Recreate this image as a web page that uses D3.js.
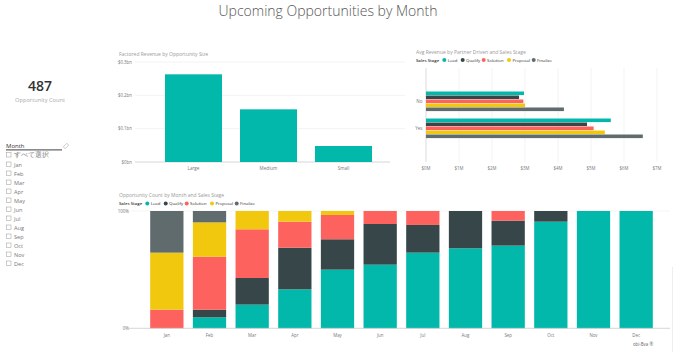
<!DOCTYPE html>
<html><head><meta charset="utf-8">
<script src="https://cdn.jsdelivr.net/npm/d3@7"></script>
<style>
html,body{margin:0;padding:0;background:#fff;}
svg{display:block;font-family:"Open Sans","Noto Sans",sans-serif;}
</style></head>
<body><svg id="c" width="674" height="352"></svg>
<script>
// ---------- data ----------
const months = ["Jan","Feb","Mar","Apr","May","Jun","Jul","Aug","Sep","Oct","Nov","Dec"];
const stages = ["Lead","Qualify","Solution","Proposal","Finalize"];
const stageColors = ["#01B8AA","#374649","#FD625E","#F2C80F","#5F6B6D"];
// share of opportunities (%) per month, one array per stage
const leadPct     = [0, 9.4, 20.2, 33.2, 50.0, 54.3, 64.5, 68.2, 70.5, 90.9, 100, 100];
const qualifyPct  = [0, 6.5, 22.7, 35.5, 25.9, 34.7, 23.6, 31.8, 21.3, 9.1, 0, 0];
const solutionPct = [15.9, 45.2, 41.5, 22.2, 20.7, 11.1, 11.9, 0, 8.2, 0, 0, 0];
const proposalPct = [48.6, 29.3, 15.6, 9.1, 3.4, 0, 0, 0, 0, 0, 0, 0];
const finalizePct = [35.5, 9.7, 0, 0, 0, 0, 0, 0, 0, 0, 0, 0];
// factored revenue by size ($bn)
const sizes = ["Large","Medium","Small"];
const sizeRevenue = [0.263, 0.158, 0.048];
const revTicks = [0, 0.1, 0.2, 0.3];
const revTickLabels = ["$0bn","$0.1bn","$0.2bn","$0.3bn"];
// avg revenue by partner driven ($M), per stage
const partner = ["No","Yes"];
const avgRevNo  = [2.97, 2.82, 2.95, 3.00, 4.18];
const avgRevYes = [5.60, 4.88, 5.08, 5.42, 6.57];
const avgTicks = [0,1,2,3,4,5,6,7];
const avgTickLabels = ["$0M","$1M","$2M","$3M","$4M","$5M","$6M","$7M"];
const pctTicks = [0, 1];
const pctTickLabels = ["0%","100%"];
const cardValue = "487";
const cardLabel = "Opportunity Count";
const slicerItems = ["すべて選択"].concat(months);

const svg = d3.select("#c");
const color = d3.scaleOrdinal().domain(stages).range(stageColors);

// ---------- page title ----------
svg.append("text").attr("x",328).attr("y",15.5).attr("text-anchor","middle")
  .attr("font-size",14).attr("font-weight",300).attr("fill","#555")
  .text("Upcoming Opportunities by Month");

// ---------- card ----------
svg.append("text").attr("x",40).attr("y",91).attr("text-anchor","middle")
  .attr("font-size",14).attr("font-weight",600).attr("fill","#333").text(cardValue);
svg.append("text").attr("x",40).attr("y",101.5).attr("text-anchor","middle")
  .attr("font-size",5.7).attr("fill","#aaa").text(cardLabel);

// ---------- slicer ----------
svg.append("text").attr("x",6).attr("y",148).attr("font-size",6).attr("fill","#333").text("Month");
svg.append("line").attr("x1",6).attr("x2",62).attr("y1",149.8).attr("y2",149.8)
  .attr("stroke","#666").attr("stroke-width",1.3);
const er = svg.append("g").attr("transform","translate(66,146) rotate(-45)");
er.append("rect").attr("x",-2.5).attr("y",-1.3).attr("width",5).attr("height",2.6)
  .attr("fill","none").attr("stroke","#aaa").attr("stroke-width",0.6);
const sl = svg.append("g");
slicerItems.forEach((t,i)=>{
  const y = 157 + i*9 + (i>0?0.5:0);
  sl.append("rect").attr("x",6.5).attr("y",y-4.5).attr("width",4.5).attr("height",4.5)
    .attr("fill","#fff").attr("stroke","#999").attr("stroke-width",0.5);
  sl.append("text").attr("x",14).attr("y",y).attr("font-size",i===0?6.5:5.6)
    .attr("fill","#777").text(t);
});

// ---------- legend helper ----------
function legend(x,y){
  const g = svg.append("g");
  const xs = [0, 28.3, 46.7, 67.7, 93, 117.7];
  g.append("text").attr("x",x).attr("y",y+1.6).attr("font-size",4.3).attr("font-weight",600)
    .attr("fill","#333").text("Sales Stage");
  stages.forEach((s,i)=>{
    g.append("circle").attr("cx",x+xs[i+1]).attr("cy",y).attr("r",2).attr("fill",color(s));
    g.append("text").attr("x",x+xs[i+1]+3.4).attr("y",y+1.6).attr("font-size",4.3)
      .attr("fill","#333").text(s);
  });
}

// ---------- Factored Revenue by Opportunity Size ----------
{
  svg.append("text").attr("x",119).attr("y",56).attr("font-size",5).attr("fill","#999")
    .text("Factored Revenue by Opportunity Size");
  const y = d3.scaleLinear().domain([0,0.3]).range([162,62]);
  const x = d3.scaleBand().domain(sizes).range([156,381]).paddingInner(0.24).paddingOuter(0.12);
  const g = svg.append("g");
  revTicks.forEach((t,i)=>{
    if(i>0) g.append("line").attr("x1",135).attr("x2",405).attr("y1",y(t)).attr("y2",y(t))
      .attr("stroke","#eee").attr("stroke-width",0.7);
    g.append("text").attr("x",132).attr("y",y(t)+1.8).attr("text-anchor","end")
      .attr("font-size",4.4).attr("fill","#777").text(revTickLabels[i]);
  });
  g.append("line").attr("x1",135).attr("x2",390).attr("y1",y(0)).attr("y2",y(0))
    .attr("stroke","#ccc").attr("stroke-width",0.8);
  g.selectAll("rect.b").data(sizes).join("rect").attr("class","b")
    .attr("x",d=>x(d)).attr("width",x.bandwidth())
    .attr("y",(d,i)=>y(sizeRevenue[i])).attr("height",(d,i)=>y(0)-y(sizeRevenue[i]))
    .attr("fill","#01B8AA");
  g.selectAll("text.c").data(sizes).join("text").attr("class","c")
    .attr("x",d=>x(d)+x.bandwidth()/2).attr("y",170).attr("text-anchor","middle")
    .attr("font-size",4.6).attr("fill","#777").text(d=>d);
}

// ---------- Avg Revenue by Partner Driven and Sales Stage ----------
{
  svg.append("text").attr("x",416).attr("y",53.5).attr("font-size",5).attr("fill","#999")
    .text("Avg Revenue by Partner Driven and Sales Stage");
  legend(416,60);
  const x = d3.scaleLinear().domain([0,7]).range([426,657]);
  const y = d3.scaleBand().domain(partner).range([68,162]).paddingInner(0.26).paddingOuter(0.87);
  const ys = d3.scaleBand().domain(stages).range([0,y.bandwidth()]);
  const g = svg.append("g");
  avgTicks.forEach((t,i)=>{
    g.append("line").attr("x1",x(t)).attr("x2",x(t)).attr("y1",68).attr("y2",162)
      .attr("stroke",i===0?"#ccc":"#eee").attr("stroke-width",0.7);
    g.append("text").attr("x",x(t)).attr("y",170).attr("text-anchor","middle")
      .attr("font-size",4.4).attr("fill","#777").text(avgTickLabels[i]);
  });
  const vals = {No: avgRevNo, Yes: avgRevYes};
  partner.forEach(p=>{
    g.append("text").attr("x",422.5).attr("y",y(p)+y.bandwidth()/2+1.8).attr("text-anchor","end")
      .attr("font-size",4.6).attr("fill","#777").text(p);
    g.selectAll(null).data(stages).join("rect")
      .attr("x",x(0)).attr("y",s=>y(p)+ys(s)).attr("height",ys.bandwidth()-0.4)
      .attr("width",(s,i)=>x(vals[p][i])-x(0)).attr("fill",s=>color(s));
  });
}

// ---------- Opportunity Count by Month and Sales Stage ----------
{
  svg.append("text").attr("x",119).attr("y",196.5).attr("font-size",5).attr("fill","#999")
    .text("Opportunity Count by Month and Sales Stage");
  legend(119,203.5);
  const table = months.map((m,i)=>({month:m, Lead:leadPct[i], Qualify:qualifyPct[i],
    Solution:solutionPct[i], Proposal:proposalPct[i], Finalize:finalizePct[i]}));
  const series = d3.stack().keys(stages).offset(d3.stackOffsetExpand)(table);
  const x = d3.scaleBand().domain(months).range([131,672]).paddingInner(0.22).paddingOuter(0.45);
  const y = d3.scaleLinear().domain([0,1]).range([328.3,211]);
  const g = svg.append("g");
  g.append("line").attr("x1",130).attr("x2",670).attr("y1",y(1)).attr("y2",y(1))
    .attr("stroke","#f0f0f0").attr("stroke-width",0.7);
  pctTicks.forEach((t,i)=>{
    g.append("text").attr("x",129).attr("y",y(t)+1.8).attr("text-anchor","end")
      .attr("font-size",4.4).attr("fill","#777").text(pctTickLabels[i]);
  });
  series.forEach(s=>{
    g.selectAll(null).data(s).join("rect")
      .attr("x",d=>x(d.data.month)).attr("width",x.bandwidth())
      .attr("y",d=>y(d[1])).attr("height",d=>Math.max(0,y(d[0])-y(d[1])))
      .attr("fill",color(s.key));
  });
  g.append("line").attr("x1",125).attr("x2",670).attr("y1",y(0)).attr("y2",y(0))
    .attr("stroke","#ccc").attr("stroke-width",0.8);
  g.selectAll("text.m").data(months).join("text").attr("class","m")
    .attr("x",d=>x(d)+x.bandwidth()/2).attr("y",337).attr("text-anchor","middle")
    .attr("font-size",4.4).attr("fill","#777").text(d=>d);
}

// footer
svg.append("text").attr("x",643).attr("y",346).attr("text-anchor","middle")
  .attr("font-size",4.4).attr("fill","#666").text("obi-Bva ®");
svg.append("line").attr("x1",672.5).attr("x2",672.5).attr("y1",267).attr("y2",352)
  .attr("stroke","#e6e6e6").attr("stroke-width",0.7);
</script></body></html>
